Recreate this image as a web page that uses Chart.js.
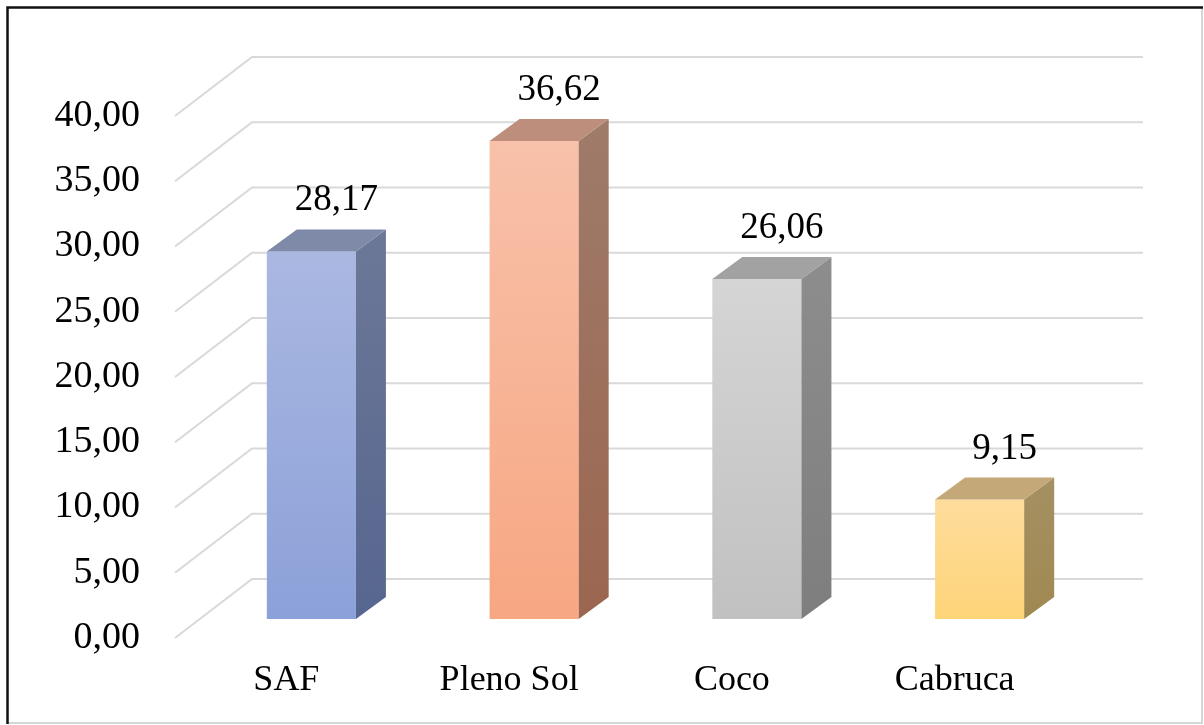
<!DOCTYPE html>
<html>
<head>
<meta charset="utf-8">
<script src="https://cdn.jsdelivr.net/npm/chart.js@4"></script>
<style>
  html, body { margin: 0; padding: 0; background: #ffffff; }
  #wrap { width: 1204px; height: 725px; position: relative; }
</style>
</head>
<body>
<div id="wrap"><canvas id="chart"></canvas></div>
<script>
// Data
const categories = ['SAF', 'Pleno Sol', 'Coco', 'Cabruca'];
const values = [28.17, 36.62, 26.06, 9.15];
const yTicks = [0, 5, 10, 15, 20, 25, 30, 35, 40];

// Face colours per bar
const frontTop    = ['#aab8e1', '#f8c1aa', '#d5d5d5', '#fedd9c'];
const frontBottom = ['#8ca1d9', '#f7a782', '#c1c1c1', '#fed479'];
const sideTop     = ['#6c7897', '#9f7b6a', '#8d8d8d', '#a59063'];
const sideBottom  = ['#576690', '#9b6650', '#7e7e7e', '#a08950'];
const topFace     = ['#7f8aa9', '#bd8e7b', '#a2a2a2', '#c4a878'];

const FONT = '"Liberation Serif", "Times New Roman", serif';
const fmt = v => v.toFixed(2).replace('.', ',');

// 3D geometry offsets
const BAR_DX = 30, BAR_DY = -22;     // bar depth
const WALL_DX = 52, WALL_DY = -40;   // front plane -> back wall
const FLOOR_DX = -25, FLOOR_DY = 19; // front plane -> floor front edge

const frame3d = {
  id: 'frame3d',
  beforeDraw(chart) {
    const { ctx, chartArea: a, scales: { y } } = chart;
    ctx.save();
    ctx.fillStyle = '#ffffff';
    ctx.fillRect(0, 0, chart.width, chart.height);

    // outer frame
    ctx.strokeStyle = '#d6d6d6';
    ctx.lineWidth = 2;
    ctx.beginPath();
    ctx.moveTo(1202, 8); ctx.lineTo(1202, 723); ctx.lineTo(8, 723);
    ctx.stroke();
    ctx.strokeStyle = '#111111';
    ctx.lineWidth = 2.5;
    ctx.beginPath();
    ctx.moveTo(7.5, 724); ctx.lineTo(7.5, 7.5); ctx.lineTo(1203, 7.5);
    ctx.stroke();

    // gridlines: floor diagonal + back wall
    ctx.strokeStyle = '#d9d9d9';
    ctx.lineWidth = 2;
    yTicks.forEach(v => {
      const yf = y.getPixelForValue(v);
      ctx.beginPath();
      ctx.moveTo(a.left + FLOOR_DX, yf + FLOOR_DY);
      ctx.lineTo(a.left + WALL_DX, yf + WALL_DY);
      ctx.lineTo(a.right + WALL_DX, yf + WALL_DY);
      ctx.stroke();
    });

    // tick labels
    ctx.fillStyle = '#000000';
    ctx.font = '38px ' + FONT;
    ctx.textAlign = 'right';
    ctx.textBaseline = 'middle';
    yTicks.forEach(v => {
      const yf = y.getPixelForValue(v);
      ctx.fillText(fmt(v), 140, yf + FLOOR_DY);
    });
    ctx.restore();
  },
  afterDatasetsDraw(chart) {
    const { ctx, scales: { x } } = chart;
    const meta = chart.getDatasetMeta(0);
    ctx.save();
    meta.data.forEach((bar, i) => {
      const x0 = bar.x - bar.width / 2, x1 = bar.x + bar.width / 2;
      const yT = bar.y, yB = bar.base;
      // side face
      const g = ctx.createLinearGradient(0, yT + BAR_DY, 0, yB);
      g.addColorStop(0, sideTop[i]);
      g.addColorStop(1, sideBottom[i]);
      ctx.fillStyle = g;
      ctx.beginPath();
      ctx.moveTo(x1, yT);
      ctx.lineTo(x1 + BAR_DX, yT + BAR_DY);
      ctx.lineTo(x1 + BAR_DX, yB + BAR_DY);
      ctx.lineTo(x1, yB);
      ctx.closePath();
      ctx.fill();
      // top face
      ctx.fillStyle = topFace[i];
      ctx.beginPath();
      ctx.moveTo(x0, yT);
      ctx.lineTo(x0 + BAR_DX, yT + BAR_DY);
      ctx.lineTo(x1 + BAR_DX, yT + BAR_DY);
      ctx.lineTo(x1, yT);
      ctx.closePath();
      ctx.fill();

      // value label
      ctx.fillStyle = '#000000';
      ctx.font = '37px ' + FONT;
      ctx.textAlign = 'center';
      ctx.textBaseline = 'alphabetic';
      ctx.fillText(fmt(values[i]), bar.x + 25, yT - 41);
    });

    // category labels on the floor front edge
    ctx.fillStyle = '#000000';
    ctx.font = '36px ' + FONT;
    ctx.textAlign = 'center';
    ctx.textBaseline = 'alphabetic';
    categories.forEach((c, i) => {
      ctx.fillText(c, x.getPixelForValue(i) + FLOOR_DX, 690);
    });
    ctx.restore();
  }
};

new Chart(document.getElementById('chart'), {
  type: 'bar',
  data: {
    labels: categories,
    datasets: [{
      data: values,
      backgroundColor(context) {
        const i = context.dataIndex;
        const chart = context.chart;
        const y = chart.scales.y;
        if (!y || context.raw === undefined) return frontBottom[i];
        const top = y.getPixelForValue(context.raw);
        const bottom = y.getPixelForValue(0);
        if (!isFinite(top) || !isFinite(bottom)) return frontBottom[i];
        const g = chart.ctx.createLinearGradient(0, top, 0, bottom);
        g.addColorStop(0, frontTop[i]);
        g.addColorStop(1, frontBottom[i]);
        return g;
      },
      borderWidth: 0,
      categoryPercentage: 1,
      barPercentage: 0.4
    }]
  },
  options: {
    responsive: true,
    maintainAspectRatio: false,
    animation: false,
    layout: { padding: { left: 200, right: 113, top: 97, bottom: 106 } },
    scales: {
      x: { display: false },
      y: { display: false, min: 0, max: 40 }
    },
    plugins: {
      legend: { display: false },
      tooltip: { enabled: false }
    }
  },
  plugins: [frame3d]
});
</script>
</body>
</html>
